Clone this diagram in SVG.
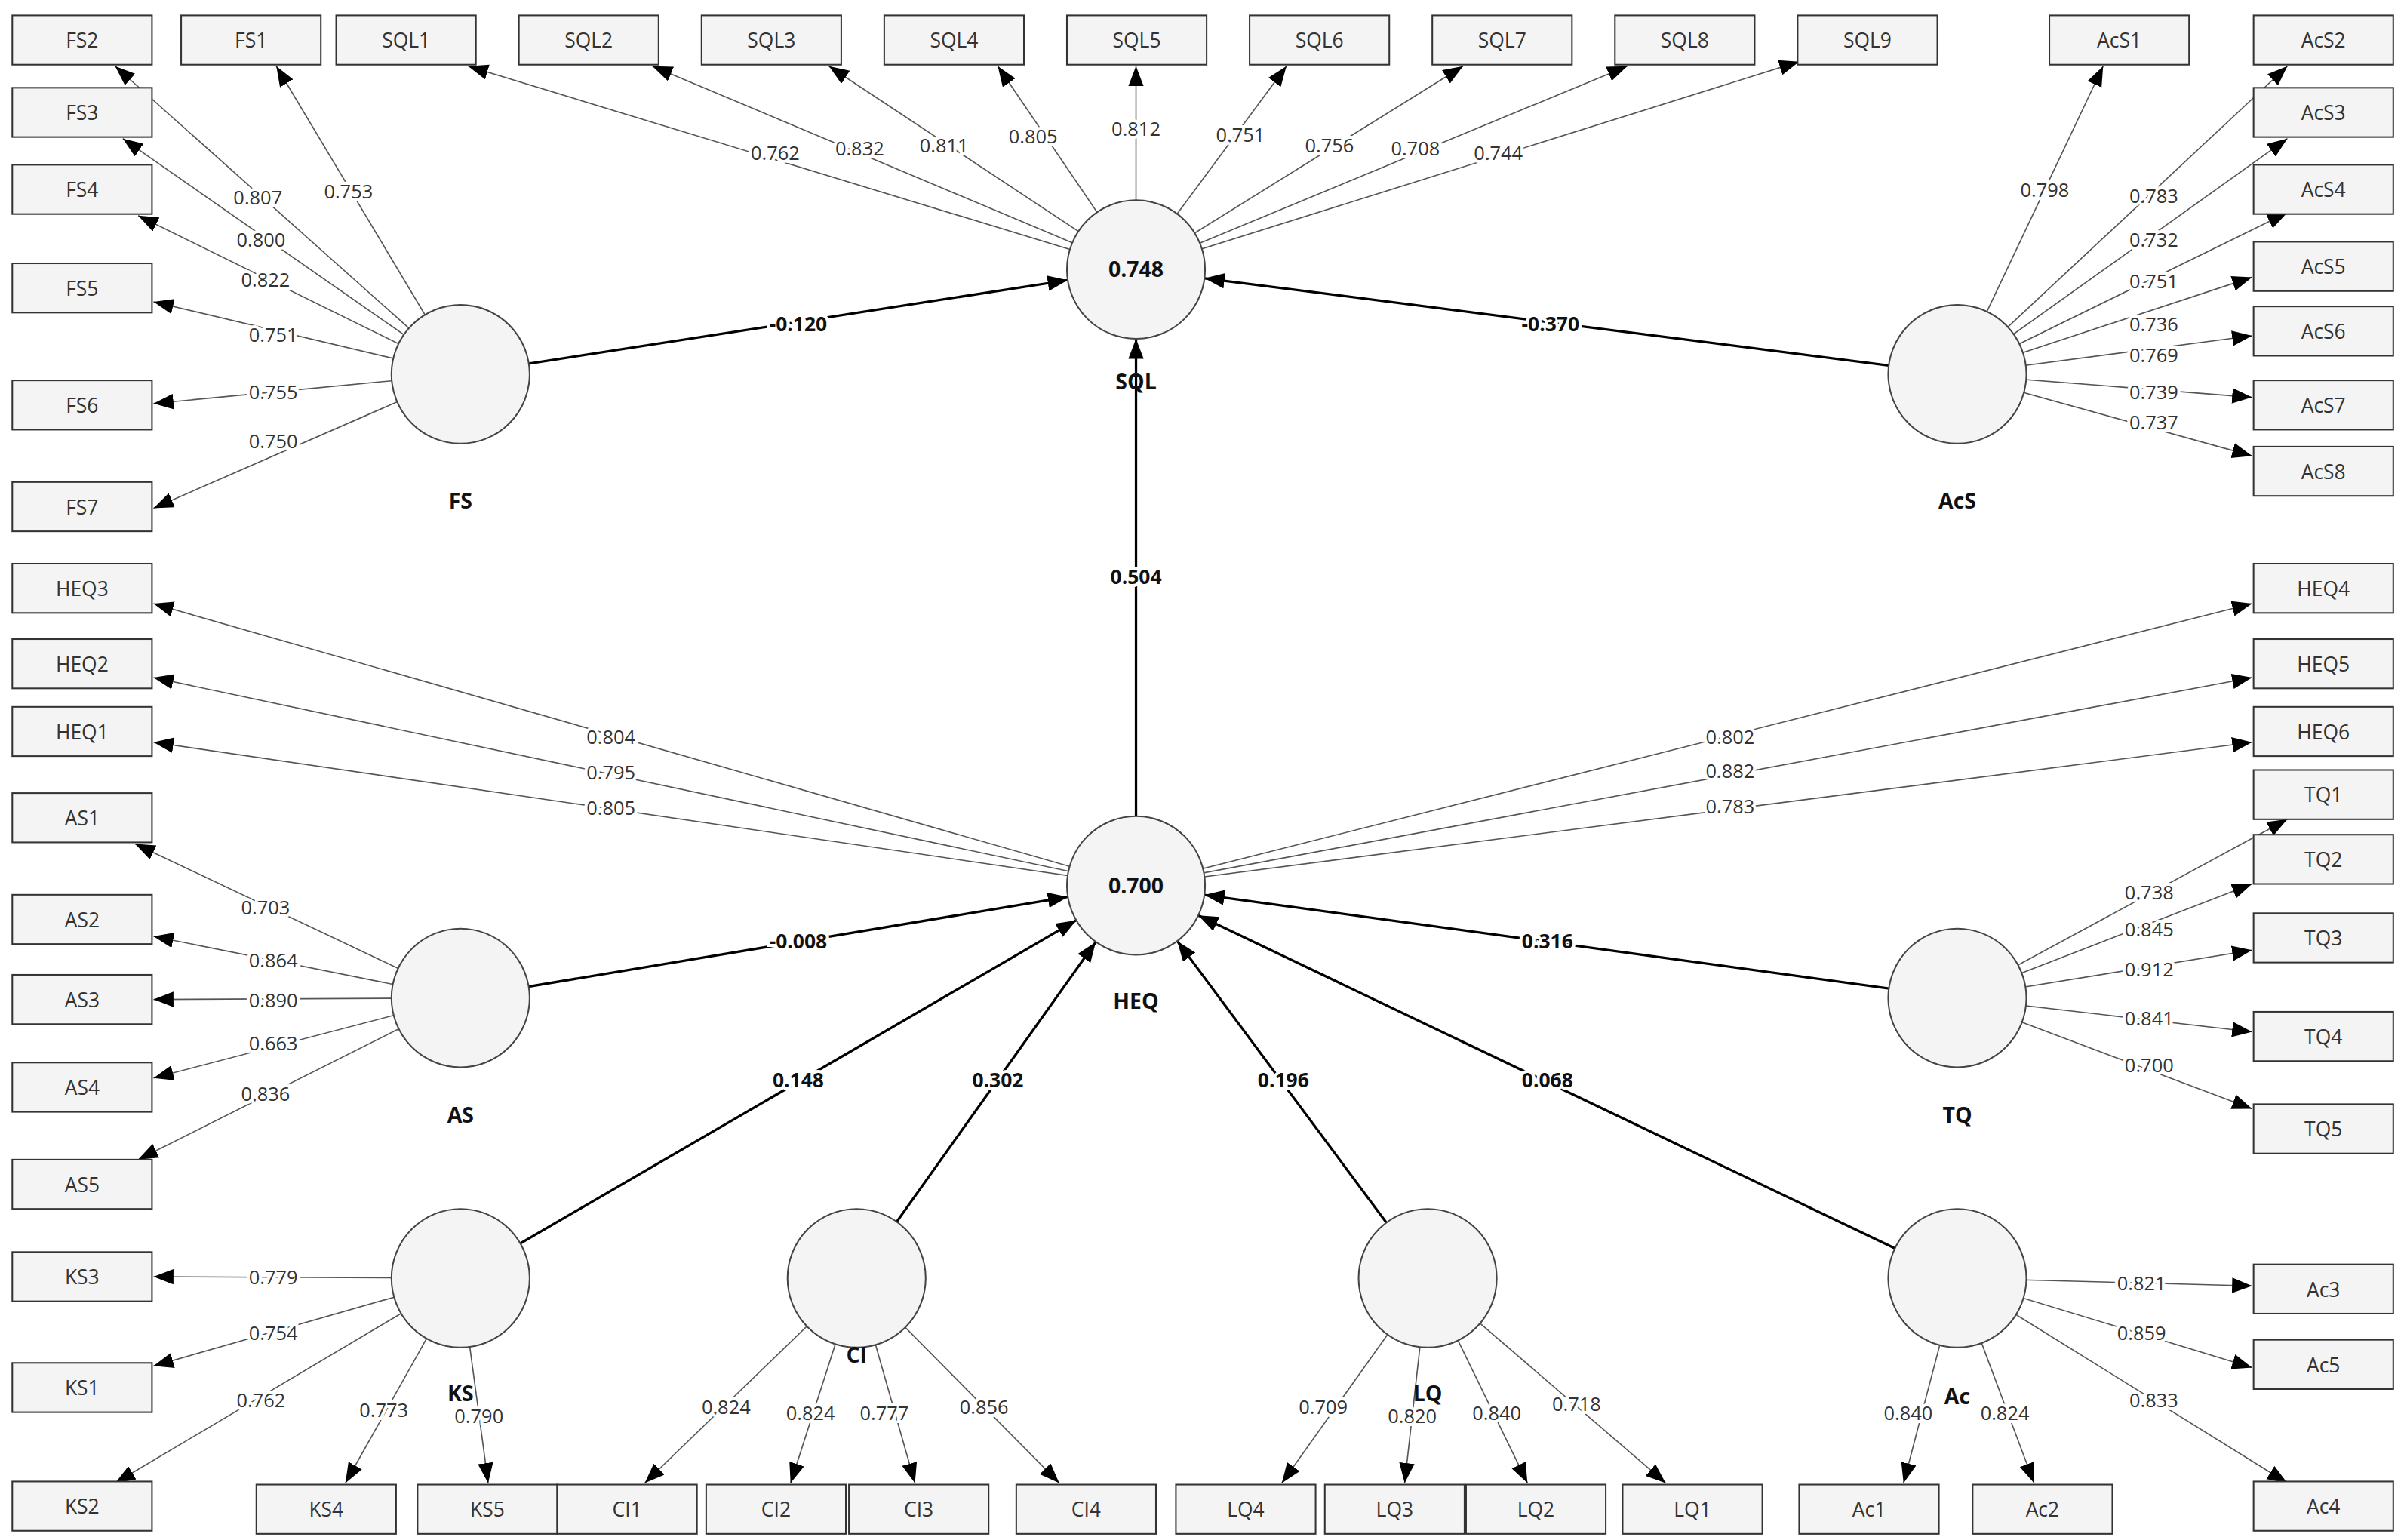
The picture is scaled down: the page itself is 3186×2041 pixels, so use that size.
<svg xmlns="http://www.w3.org/2000/svg" width="3186" height="2041" viewBox="0 0 3186 2041">
<style>
.b rect{fill:#f4f4f4;stroke:#333;stroke-width:1}
.b text,.t{font-family:"Open Sans","DejaVu Sans",sans-serif;font-size:13px;fill:#333;text-anchor:middle}
.c{fill:#f4f4f4;stroke:#444;stroke-width:1}
.lo{stroke:#555;stroke-width:0.8;fill:none;marker-end:url(#a)}
.st{stroke:#000;stroke-width:1.6;fill:none;marker-end:url(#a)}
.ll{font-family:"Open Sans","DejaVu Sans",sans-serif;font-size:12.5px;fill:#333;text-anchor:middle;stroke:#fff;stroke-width:4;paint-order:stroke}
.sl{font-family:"Open Sans","DejaVu Sans",sans-serif;font-size:13px;font-weight:bold;fill:#111;text-anchor:middle;stroke:#fff;stroke-width:4;paint-order:stroke}
.nl{font-family:"Open Sans","DejaVu Sans",sans-serif;font-size:14px;font-weight:bold;fill:#111;text-anchor:middle}
</style>
<defs>
<marker id="a" markerUnits="userSpaceOnUse" markerWidth="14" markerHeight="12" refX="13" refY="5" orient="auto"><path d="M0,0 L13,5 L0,10 Z" fill="#000"/></marker>
</defs>
<rect width="3186" height="2041" fill="#fff"/>
<g transform="scale(2.0345 2.041)">
<g id="connectors">
<line class="lo" x1="300" y1="243" x2="75" y2="43"/>
<line class="lo" x1="300" y1="243" x2="180" y2="43"/>
<line class="lo" x1="300" y1="243" x2="80" y2="90"/>
<line class="lo" x1="300" y1="243" x2="90" y2="140"/>
<line class="lo" x1="300" y1="243" x2="100" y2="196"/>
<line class="lo" x1="300" y1="243" x2="100" y2="262"/>
<line class="lo" x1="300" y1="243" x2="100" y2="330"/>
<line class="lo" x1="740" y1="175" x2="305" y2="43"/>
<line class="lo" x1="740" y1="175" x2="425" y2="43"/>
<line class="lo" x1="740" y1="175" x2="540" y2="43"/>
<line class="lo" x1="740" y1="175" x2="650" y2="43"/>
<line class="lo" x1="740" y1="175" x2="740" y2="43"/>
<line class="lo" x1="740" y1="175" x2="838" y2="43"/>
<line class="lo" x1="740" y1="175" x2="953" y2="43"/>
<line class="lo" x1="740" y1="175" x2="1060" y2="43"/>
<line class="lo" x1="740" y1="175" x2="1172" y2="40"/>
<line class="lo" x1="1275" y1="243" x2="1370" y2="43"/>
<line class="lo" x1="1275" y1="243" x2="1490" y2="43"/>
<line class="lo" x1="1275" y1="243" x2="1490" y2="90"/>
<line class="lo" x1="1275" y1="243" x2="1490" y2="138"/>
<line class="lo" x1="1275" y1="243" x2="1467" y2="180"/>
<line class="lo" x1="1275" y1="243" x2="1467" y2="218"/>
<line class="lo" x1="1275" y1="243" x2="1467" y2="258"/>
<line class="lo" x1="1275" y1="243" x2="1467" y2="296"/>
<line class="lo" x1="740" y1="575" x2="100" y2="392"/>
<line class="lo" x1="740" y1="575" x2="100" y2="440"/>
<line class="lo" x1="740" y1="575" x2="100" y2="482"/>
<line class="lo" x1="740" y1="575" x2="1467" y2="392"/>
<line class="lo" x1="740" y1="575" x2="1467" y2="440"/>
<line class="lo" x1="740" y1="575" x2="1467" y2="482"/>
<line class="lo" x1="300" y1="648" x2="88" y2="548"/>
<line class="lo" x1="300" y1="648" x2="100" y2="608"/>
<line class="lo" x1="300" y1="648" x2="100" y2="649"/>
<line class="lo" x1="300" y1="648" x2="100" y2="700"/>
<line class="lo" x1="300" y1="648" x2="90" y2="753"/>
<line class="lo" x1="1275" y1="648" x2="1490" y2="532"/>
<line class="lo" x1="1275" y1="648" x2="1467" y2="574"/>
<line class="lo" x1="1275" y1="648" x2="1467" y2="617"/>
<line class="lo" x1="1275" y1="648" x2="1467" y2="670"/>
<line class="lo" x1="1275" y1="648" x2="1467" y2="720"/>
<line class="lo" x1="300" y1="830" x2="100" y2="829"/>
<line class="lo" x1="300" y1="830" x2="100" y2="887"/>
<line class="lo" x1="300" y1="830" x2="75" y2="963"/>
<line class="lo" x1="300" y1="830" x2="225" y2="963"/>
<line class="lo" x1="300" y1="830" x2="318" y2="963"/>
<line class="lo" x1="558" y1="830" x2="420" y2="963"/>
<line class="lo" x1="558" y1="830" x2="515" y2="963"/>
<line class="lo" x1="558" y1="830" x2="596" y2="963"/>
<line class="lo" x1="558" y1="830" x2="690" y2="963"/>
<line class="lo" x1="930" y1="830" x2="835" y2="963"/>
<line class="lo" x1="930" y1="830" x2="915" y2="963"/>
<line class="lo" x1="930" y1="830" x2="995" y2="963"/>
<line class="lo" x1="930" y1="830" x2="1085" y2="963"/>
<line class="lo" x1="1275" y1="830" x2="1467" y2="835"/>
<line class="lo" x1="1275" y1="830" x2="1467" y2="888"/>
<line class="lo" x1="1275" y1="830" x2="1490" y2="963"/>
<line class="lo" x1="1275" y1="830" x2="1240" y2="963"/>
<line class="lo" x1="1275" y1="830" x2="1325" y2="963"/>
<line class="st" x1="300" y1="243" x2="695.5" y2="181.9"/>
<line class="st" x1="1275" y1="243" x2="784.7" y2="180.7"/>
<line class="st" x1="740" y1="530" x2="740" y2="220"/>
<line class="st" x1="300" y1="648" x2="695.6" y2="582.4"/>
<line class="st" x1="1275" y1="648" x2="784.6" y2="581.1"/>
<line class="st" x1="300" y1="830" x2="701.1" y2="597.6"/>
<line class="st" x1="558" y1="830" x2="713.8" y2="611.7"/>
<line class="st" x1="930" y1="830" x2="766.9" y2="611.1"/>
<line class="st" x1="1275" y1="830" x2="780.6" y2="594.4"/>
<g>
<text class="ll" x="168" y="133">0.807</text><text class="ll" x="227" y="129">0.753</text><text class="ll" x="170" y="160">0.800</text><text class="ll" x="173" y="186">0.822</text><text class="ll" x="178" y="222">0.751</text><text class="ll" x="178" y="259">0.755</text><text class="ll" x="178" y="291">0.750</text>
<text class="ll" x="505" y="104">0.762</text><text class="ll" x="560" y="101">0.832</text><text class="ll" x="615" y="99">0.811</text><text class="ll" x="673" y="93">0.805</text><text class="ll" x="740" y="88">0.812</text><text class="ll" x="808" y="92">0.751</text><text class="ll" x="866" y="99">0.756</text><text class="ll" x="922" y="101">0.708</text><text class="ll" x="976" y="104">0.744</text>
<text class="ll" x="1332" y="128">0.798</text><text class="ll" x="1403" y="132">0.783</text><text class="ll" x="1403" y="160">0.732</text><text class="ll" x="1403" y="187">0.751</text><text class="ll" x="1403" y="215">0.736</text><text class="ll" x="1403" y="235">0.769</text><text class="ll" x="1403" y="259">0.739</text><text class="ll" x="1403" y="279">0.737</text>
<text class="ll" x="398" y="483">0.804</text><text class="ll" x="398" y="506">0.795</text><text class="ll" x="398" y="529">0.805</text><text class="ll" x="1127" y="483">0.802</text><text class="ll" x="1127" y="505">0.882</text><text class="ll" x="1127" y="528">0.783</text>
<text class="ll" x="173" y="594">0.703</text><text class="ll" x="178" y="628">0.864</text><text class="ll" x="178" y="654">0.890</text><text class="ll" x="178" y="682">0.663</text><text class="ll" x="173" y="715">0.836</text>
<text class="ll" x="1400" y="584">0.738</text><text class="ll" x="1400" y="608">0.845</text><text class="ll" x="1400" y="634">0.912</text><text class="ll" x="1400" y="666">0.841</text><text class="ll" x="1400" y="696">0.700</text>
<text class="ll" x="178" y="834">0.779</text><text class="ll" x="178" y="870">0.754</text><text class="ll" x="170" y="914">0.762</text><text class="ll" x="250" y="920">0.773</text><text class="ll" x="312" y="924">0.790</text>
<text class="ll" x="473" y="918">0.824</text><text class="ll" x="528" y="922">0.824</text><text class="ll" x="576" y="922">0.777</text><text class="ll" x="641" y="918">0.856</text>
<text class="ll" x="862" y="918">0.709</text><text class="ll" x="920" y="924">0.820</text><text class="ll" x="975" y="922">0.840</text><text class="ll" x="1027" y="916">0.718</text>
<text class="ll" x="1395" y="838">0.821</text><text class="ll" x="1395" y="870">0.859</text><text class="ll" x="1403" y="914">0.833</text><text class="ll" x="1243" y="922">0.840</text><text class="ll" x="1306" y="922">0.824</text>
<text class="sl" x="520" y="215">-0.120</text><text class="sl" x="1010" y="215">-0.370</text><text class="sl" x="740" y="379">0.504</text><text class="sl" x="520" y="616">-0.008</text><text class="sl" x="1008" y="616">0.316</text><text class="sl" x="520" y="706">0.148</text><text class="sl" x="650" y="706">0.302</text><text class="sl" x="836" y="706">0.196</text><text class="sl" x="1008" y="706">0.068</text>
</g>
</g>
<g id="latent">
<g id="SQL"><circle class="c" cx="740" cy="175" r="45"/><text class="nl" x="740" y="180" font-size="13">0.748</text><text class="nl" x="740" y="253">SQL</text></g>
<g id="FS"><circle class="c" cx="300" cy="243" r="45"/><text class="nl" x="300" y="330">FS</text></g>
<g id="AcS"><circle class="c" cx="1275" cy="243" r="45"/><text class="nl" x="1275" y="330">AcS</text></g>
<g id="HEQ"><circle class="c" cx="740" cy="575" r="45"/><text class="nl" x="740" y="580" font-size="13">0.700</text><text class="nl" x="740" y="655">HEQ</text></g>
<g id="AS"><circle class="c" cx="300" cy="648" r="45"/><text class="nl" x="300" y="729">AS</text></g>
<g id="TQ"><circle class="c" cx="1275" cy="648" r="45"/><text class="nl" x="1275" y="729">TQ</text></g>
<g id="KS"><circle class="c" cx="300" cy="830" r="45"/><text class="nl" x="300" y="910">KS</text></g>
<g id="CI"><circle class="c" cx="558" cy="830" r="45"/><text class="nl" x="558" y="885">CI</text></g>
<g id="LQ"><circle class="c" cx="930" cy="830" r="45"/><text class="nl" x="930" y="910">LQ</text></g>
<g id="Ac"><circle class="c" cx="1275" cy="830" r="45"/><text class="nl" x="1275" y="912">Ac</text></g>
</g>
<g id="indicators" class="b">
<g id="FS2"><rect x="8" y="10" width="91" height="32"/><text x="53.5" y="31">FS2</text></g>
<g id="FS1"><rect x="118" y="10" width="91" height="32"/><text x="163.5" y="31">FS1</text></g>
<g id="SQL1"><rect x="219" y="10" width="91" height="32"/><text x="264.5" y="31">SQL1</text></g>
<g id="SQL2"><rect x="338" y="10" width="91" height="32"/><text x="383.5" y="31">SQL2</text></g>
<g id="SQL3"><rect x="457" y="10" width="91" height="32"/><text x="502.5" y="31">SQL3</text></g>
<g id="SQL4"><rect x="576" y="10" width="91" height="32"/><text x="621.5" y="31">SQL4</text></g>
<g id="SQL5"><rect x="695" y="10" width="91" height="32"/><text x="740.5" y="31">SQL5</text></g>
<g id="SQL6"><rect x="814" y="10" width="91" height="32"/><text x="859.5" y="31">SQL6</text></g>
<g id="SQL7"><rect x="933" y="10" width="91" height="32"/><text x="978.5" y="31">SQL7</text></g>
<g id="SQL8"><rect x="1052" y="10" width="91" height="32"/><text x="1097.5" y="31">SQL8</text></g>
<g id="SQL9"><rect x="1171" y="10" width="91" height="32"/><text x="1216.5" y="31">SQL9</text></g>
<g id="AcS1"><rect x="1335" y="10" width="91" height="32"/><text x="1380.5" y="31">AcS1</text></g>
<g id="AcS2"><rect x="1468" y="10" width="91" height="32"/><text x="1513.5" y="31">AcS2</text></g>
<g id="FS3"><rect x="8" y="57" width="91" height="32"/><text x="53.5" y="78">FS3</text></g>
<g id="FS4"><rect x="8" y="107" width="91" height="32"/><text x="53.5" y="128">FS4</text></g>
<g id="FS5"><rect x="8" y="171" width="91" height="32"/><text x="53.5" y="192">FS5</text></g>
<g id="FS6"><rect x="8" y="247" width="91" height="32"/><text x="53.5" y="268">FS6</text></g>
<g id="FS7"><rect x="8" y="313" width="91" height="32"/><text x="53.5" y="334">FS7</text></g>
<g id="HEQ3"><rect x="8" y="366" width="91" height="32"/><text x="53.5" y="387">HEQ3</text></g>
<g id="HEQ2"><rect x="8" y="415" width="91" height="32"/><text x="53.5" y="436">HEQ2</text></g>
<g id="HEQ1"><rect x="8" y="459" width="91" height="32"/><text x="53.5" y="480">HEQ1</text></g>
<g id="AS1"><rect x="8" y="515" width="91" height="32"/><text x="53.5" y="536">AS1</text></g>
<g id="AS2"><rect x="8" y="581" width="91" height="32"/><text x="53.5" y="602">AS2</text></g>
<g id="AS3"><rect x="8" y="633" width="91" height="32"/><text x="53.5" y="654">AS3</text></g>
<g id="AS4"><rect x="8" y="690" width="91" height="32"/><text x="53.5" y="711">AS4</text></g>
<g id="AS5"><rect x="8" y="753" width="91" height="32"/><text x="53.5" y="774">AS5</text></g>
<g id="KS3"><rect x="8" y="813" width="91" height="32"/><text x="53.5" y="834">KS3</text></g>
<g id="KS1"><rect x="8" y="885" width="91" height="32"/><text x="53.5" y="906">KS1</text></g>
<g id="KS2"><rect x="8" y="962" width="91" height="32"/><text x="53.5" y="983">KS2</text></g>
<g id="AcS3"><rect x="1468" y="57" width="91" height="32"/><text x="1513.5" y="78">AcS3</text></g>
<g id="AcS4"><rect x="1468" y="107" width="91" height="32"/><text x="1513.5" y="128">AcS4</text></g>
<g id="AcS5"><rect x="1468" y="157" width="91" height="32"/><text x="1513.5" y="178">AcS5</text></g>
<g id="AcS6"><rect x="1468" y="199" width="91" height="32"/><text x="1513.5" y="220">AcS6</text></g>
<g id="AcS7"><rect x="1468" y="247" width="91" height="32"/><text x="1513.5" y="268">AcS7</text></g>
<g id="AcS8"><rect x="1468" y="290" width="91" height="32"/><text x="1513.5" y="311">AcS8</text></g>
<g id="HEQ4"><rect x="1468" y="366" width="91" height="32"/><text x="1513.5" y="387">HEQ4</text></g>
<g id="HEQ5"><rect x="1468" y="415" width="91" height="32"/><text x="1513.5" y="436">HEQ5</text></g>
<g id="HEQ6"><rect x="1468" y="459" width="91" height="32"/><text x="1513.5" y="480">HEQ6</text></g>
<g id="TQ1"><rect x="1468" y="500" width="91" height="32"/><text x="1513.5" y="521">TQ1</text></g>
<g id="TQ2"><rect x="1468" y="542" width="91" height="32"/><text x="1513.5" y="563">TQ2</text></g>
<g id="TQ3"><rect x="1468" y="593" width="91" height="32"/><text x="1513.5" y="614">TQ3</text></g>
<g id="TQ4"><rect x="1468" y="657" width="91" height="32"/><text x="1513.5" y="678">TQ4</text></g>
<g id="TQ5"><rect x="1468" y="717" width="91" height="32"/><text x="1513.5" y="738">TQ5</text></g>
<g id="Ac3"><rect x="1468" y="821" width="91" height="32"/><text x="1513.5" y="842">Ac3</text></g>
<g id="Ac5"><rect x="1468" y="870" width="91" height="32"/><text x="1513.5" y="891">Ac5</text></g>
<g id="Ac4"><rect x="1468" y="962" width="91" height="32"/><text x="1513.5" y="983">Ac4</text></g>
<g id="KS4"><rect x="167" y="964" width="91" height="32"/><text x="212.5" y="985">KS4</text></g>
<g id="KS5"><rect x="272" y="964" width="91" height="32"/><text x="317.5" y="985">KS5</text></g>
<g id="CI1"><rect x="363" y="964" width="91" height="32"/><text x="408.5" y="985">CI1</text></g>
<g id="CI2"><rect x="460" y="964" width="91" height="32"/><text x="505.5" y="985">CI2</text></g>
<g id="CI3"><rect x="553" y="964" width="91" height="32"/><text x="598.5" y="985">CI3</text></g>
<g id="CI4"><rect x="662" y="964" width="91" height="32"/><text x="707.5" y="985">CI4</text></g>
<g id="LQ4"><rect x="766" y="964" width="91" height="32"/><text x="811.5" y="985">LQ4</text></g>
<g id="LQ3"><rect x="863" y="964" width="91" height="32"/><text x="908.5" y="985">LQ3</text></g>
<g id="LQ2"><rect x="955" y="964" width="91" height="32"/><text x="1000.5" y="985">LQ2</text></g>
<g id="LQ1"><rect x="1057" y="964" width="91" height="32"/><text x="1102.5" y="985">LQ1</text></g>
<g id="Ac1"><rect x="1172" y="964" width="91" height="32"/><text x="1217.5" y="985">Ac1</text></g>
<g id="Ac2"><rect x="1285" y="964" width="91" height="32"/><text x="1330.5" y="985">Ac2</text></g>
</g>
</g>
</svg>
